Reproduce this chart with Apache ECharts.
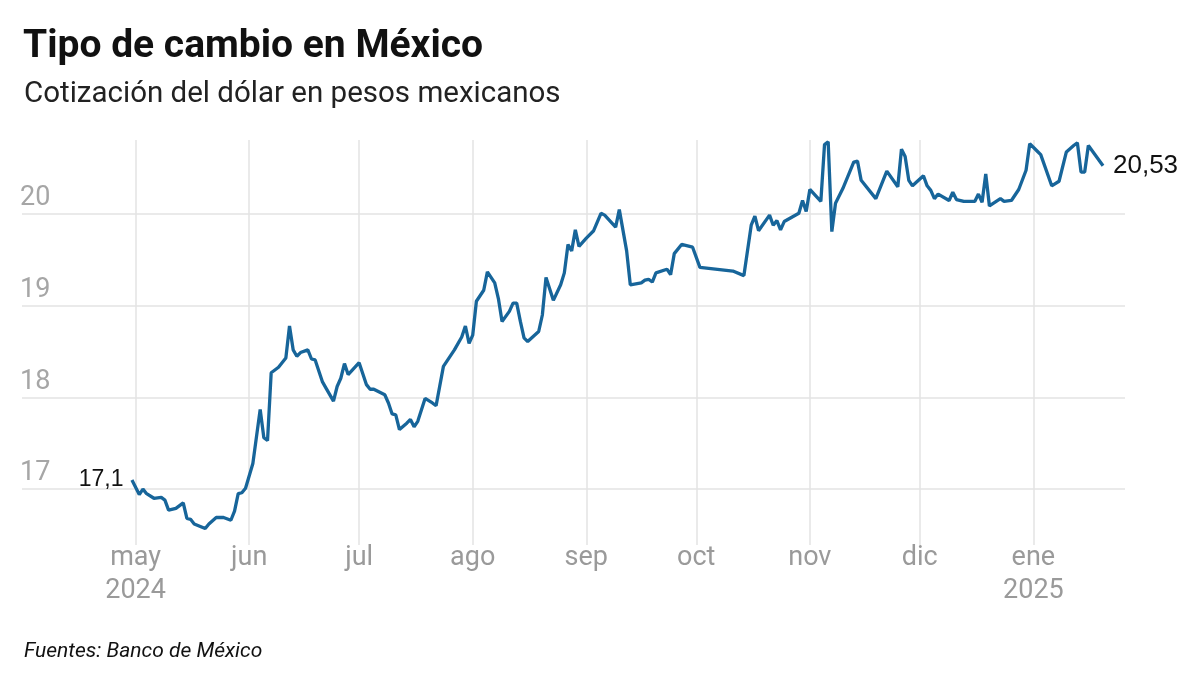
<!DOCTYPE html>
<html>
<head>
<meta charset="utf-8">
<script src="https://cdn.jsdelivr.net/npm/echarts@6/dist/echarts.min.js"></script>
<style>
html,body{margin:0;padding:0;background:#fff;}
#chart{width:1200px;height:691px;}
</style>
</head>
<body>
<div id="chart"></div>
<script>
const title = 'Tipo de cambio en México';
const subtitle = 'Cotización del dólar en pesos mexicanos';
const source = 'Fuentes: Banco de México';

const dates = [
'2024-04-30','2024-05-02','2024-05-03','2024-05-04','2024-05-06','2024-05-08','2024-05-09','2024-05-10','2024-05-12','2024-05-14',
'2024-05-15','2024-05-16','2024-05-17','2024-05-20','2024-05-21','2024-05-23','2024-05-25','2024-05-27','2024-05-28','2024-05-29',
'2024-05-30','2024-05-31','2024-06-02','2024-06-04','2024-06-05','2024-06-06','2024-06-07','2024-06-09','2024-06-11','2024-06-12',
'2024-06-13','2024-06-14','2024-06-15','2024-06-17','2024-06-18','2024-06-19','2024-06-21','2024-06-22','2024-06-24','2024-06-25',
'2024-06-26','2024-06-27','2024-06-28','2024-07-01','2024-07-03','2024-07-04','2024-07-05','2024-07-08','2024-07-09','2024-07-10',
'2024-07-11','2024-07-12','2024-07-14','2024-07-15','2024-07-16','2024-07-17','2024-07-19','2024-07-21','2024-07-22','2024-07-24',
'2024-07-25','2024-07-27','2024-07-29','2024-07-30','2024-07-31','2024-08-01','2024-08-02','2024-08-04','2024-08-05','2024-08-07',
'2024-08-08','2024-08-09','2024-08-11','2024-08-12','2024-08-13','2024-08-14','2024-08-15','2024-08-16','2024-08-19','2024-08-20',
'2024-08-21','2024-08-23','2024-08-25','2024-08-26','2024-08-27','2024-08-28','2024-08-29','2024-08-30','2024-09-01','2024-09-03',
'2024-09-05','2024-09-06','2024-09-09','2024-09-10','2024-09-12','2024-09-13','2024-09-16','2024-09-17','2024-09-18','2024-09-19',
'2024-09-20','2024-09-23','2024-09-24','2024-09-25','2024-09-27','2024-09-30','2024-10-02','2024-10-11','2024-10-14','2024-10-16',
'2024-10-17','2024-10-18','2024-10-21','2024-10-22','2024-10-23','2024-10-24','2024-10-25','2024-10-29','2024-10-30','2024-10-31',
'2024-11-01','2024-11-04','2024-11-05','2024-11-06','2024-11-07','2024-11-08','2024-11-10','2024-11-13','2024-11-14','2024-11-15',
'2024-11-19','2024-11-22','2024-11-25','2024-11-26','2024-11-27','2024-11-28','2024-11-29','2024-12-02','2024-12-03','2024-12-04',
'2024-12-05','2024-12-06','2024-12-09','2024-12-10','2024-12-11','2024-12-13','2024-12-16','2024-12-17','2024-12-18','2024-12-19',
'2024-12-20','2024-12-23','2024-12-24','2024-12-26','2024-12-28','2024-12-30','2024-12-31','2025-01-02','2025-01-03','2025-01-06',
'2025-01-08','2025-01-10','2025-01-12','2025-01-13','2025-01-14','2025-01-15','2025-01-16','2025-01-20'
];

const rates = [
17.10,16.94,17.00,16.95,16.90,16.91,16.88,16.77,16.79,16.85,
16.68,16.67,16.62,16.57,16.62,16.69,16.69,16.66,16.76,16.95,
16.96,17.01,17.28,17.87,17.56,17.53,18.27,18.33,18.43,18.78,
18.52,18.45,18.49,18.52,18.42,18.41,18.17,18.10,17.96,18.12,
18.21,18.37,18.25,18.38,18.14,18.09,18.09,18.03,17.94,17.82,
17.81,17.65,17.72,17.76,17.68,17.74,17.99,17.94,17.91,18.34,
18.40,18.52,18.66,18.78,18.59,18.68,19.05,19.17,19.37,19.25,
19.08,18.83,18.94,19.03,19.03,18.83,18.65,18.61,18.72,18.90,
19.31,19.06,19.23,19.36,19.67,19.60,19.83,19.65,19.74,19.82,
20.01,19.99,19.86,20.05,19.60,19.23,19.25,19.28,19.29,19.26,
19.36,19.40,19.34,19.57,19.67,19.64,19.42,19.38,19.33,19.88,
19.98,19.82,19.99,19.88,19.93,19.83,19.92,20.01,20.15,20.03,
20.27,20.14,20.76,20.79,19.81,20.12,20.28,20.57,20.58,20.37,
20.17,20.47,20.30,20.71,20.63,20.37,20.31,20.42,20.31,20.26,
20.17,20.22,20.15,20.24,20.16,20.14,20.14,20.22,20.13,20.44,
20.09,20.17,20.14,20.15,20.27,20.48,20.77,20.69,20.65,20.31,
20.36,20.68,20.75,20.78,20.46,20.46,20.75,20.53
];

const monthTicks = ['2024-05-01','2024-06-01','2024-07-01','2024-08-01','2024-09-01','2024-10-01','2024-11-01','2024-12-01','2025-01-01'];
const monthLabels = ['may\n2024','jun','jul','ago','sep','oct','nov','dic','ene\n2025'];
const yTicks = [17, 18, 19, 20];

const ts = s => { const p = s.split('-'); return Date.UTC(+p[0], +p[1]-1, +p[2]); };
const monthTs = monthTicks.map(ts);
const fmt = v => String(v).replace('.', ',');

const chart = echarts.init(document.getElementById('chart'));
const sansCond = 'Roboto, "Liberation Sans", sans-serif';

chart.setOption({
  animation: false,
  backgroundColor: '#fff',
  title: [
    { text: title, left: 18, top: 23, textStyle: { fontFamily: sansCond, fontSize: 39, fontWeight: 'bold', color: '#111' } },
    { text: subtitle, left: 19, top: 75, textStyle: { fontFamily: sansCond, fontSize: 29.5, fontWeight: 'normal', color: '#222' } },
    { text: source, left: 19, top: 636, textStyle: { fontFamily: sansCond, fontSize: 21, fontStyle: 'italic', fontWeight: 'normal', color: '#111' } }
  ],
  grid: { left: 22, right: 75, top: 140, bottom: 146, containLabel: false },
  xAxis: {
    type: 'value',
    min: ts('2024-03-31'),
    max: ts('2025-01-26'),
    axisLine: { show: false },
    axisTick: { show: false, customValues: monthTs },
    splitLine: { show: true, lineStyle: { color: '#e3e3e3', width: 1.5 } },
    axisLabel: {
      customValues: monthTs,
      formatter: (v) => { const i = monthTs.indexOf(v); return i >= 0 ? monthLabels[i] : ''; },
      color: '#9a9a9a', fontFamily: sansCond, fontSize: 27, lineHeight: 33, margin: -3
    }
  },
  yAxis: {
    type: 'value',
    min: 16.39,
    max: 20.81,
    axisLine: { show: false },
    axisTick: { show: false, customValues: yTicks },
    splitLine: { show: true, lineStyle: { color: '#e3e3e3', width: 1.5 } },
    axisLabel: {
      customValues: yTicks,
      inside: true, margin: -2, verticalAlign: 'bottom', padding: [0, 0, 2, 0],
      color: '#a6a6a6', fontFamily: sansCond, fontSize: 27
    }
  },
  series: [{
    type: 'line',
    data: dates.map((d, i) => [ts(d), rates[i]]),
    showSymbol: false,
    lineStyle: { color: '#17659a', width: 3.3 },
    itemStyle: { color: '#17659a' },
    endLabel: {
      show: true, formatter: p => fmt(p.value[1]), distance: 10,
      color: '#111', fontFamily: '"Liberation Sans", Arial, sans-serif', fontSize: 26
    },
    markPoint: {
      symbol: 'circle', symbolSize: 1, itemStyle: { color: 'rgba(0,0,0,0)' },
      label: { show: true, position: 'left', distance: 8, formatter: p => fmt(p.value), color: '#111', fontFamily: '"Liberation Sans", Arial, sans-serif', fontSize: 23 },
      data: [{ coord: [ts(dates[0]), rates[0]], value: rates[0] }]
    }
  }]
});
</script>
</body>
</html>
